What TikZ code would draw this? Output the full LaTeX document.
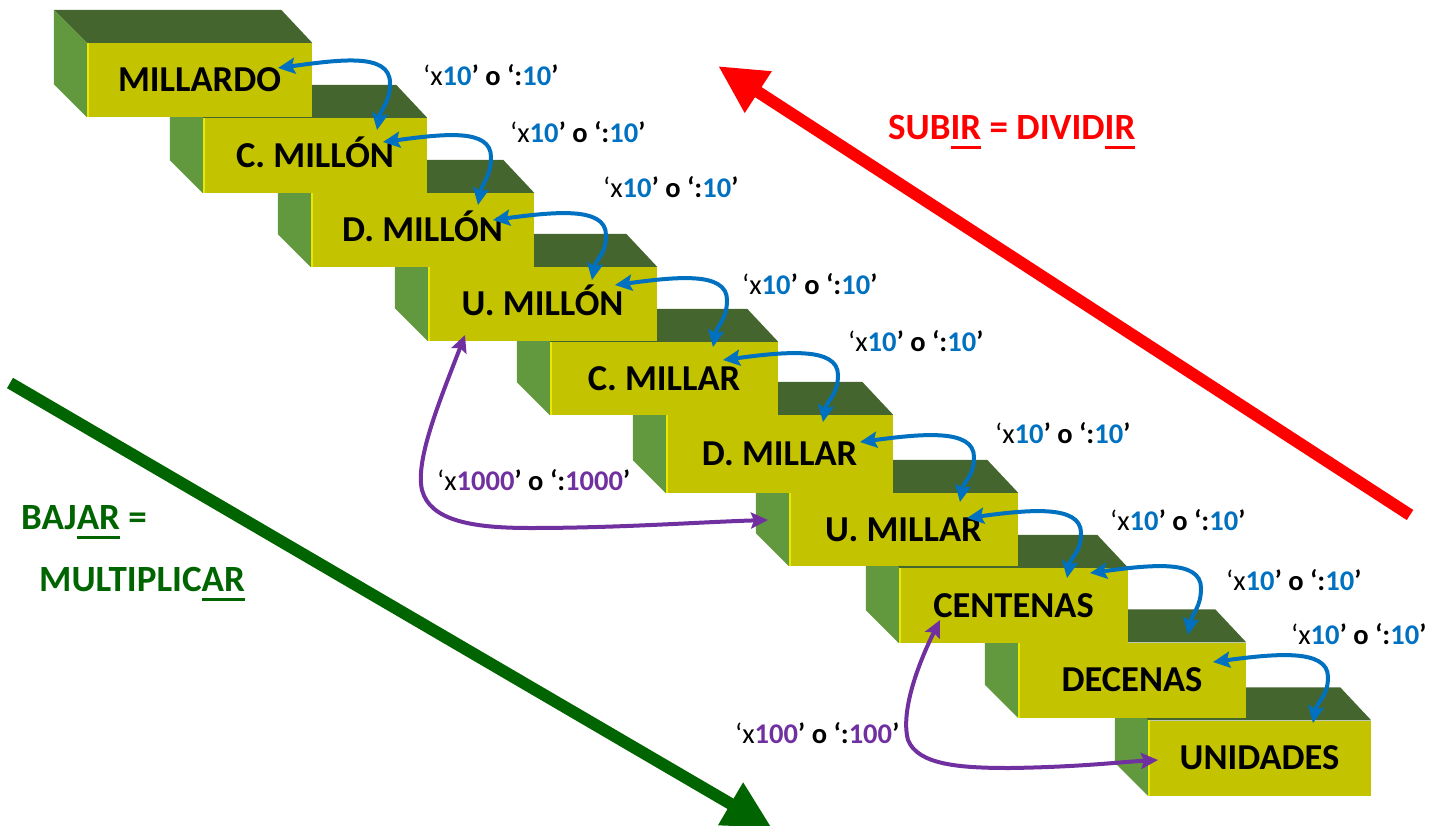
\documentclass[tikz,border=0pt]{standalone}
\usepackage{fontspec}
\setmainfont{Carlito}
\usetikzlibrary{arrows.meta}
\definecolor{frontc}{RGB}{195,195,0}
\definecolor{topc}{RGB}{68,101,46}
\definecolor{sidec}{RGB}{98,153,62}
\definecolor{edgec}{RGB}{232,232,0}
\definecolor{bluec}{RGB}{0,112,192}
\definecolor{purplec}{RGB}{112,48,160}
\definecolor{redc}{RGB}{255,0,0}
\definecolor{greenc}{RGB}{0,100,0}
\newcommand\myul[1]{\setbox0\hbox{#1}\rlap{\rule[-10pt]{\wd0}{3pt}}\box0\relax}
\newcommand\mlab[2]{{\mdseries ‘x}\textcolor{#1}{#2}’ o ‘:\textcolor{#1}{#2}’}
\newcommand\stepfaces[1]{%
  \fill[topc] (#1.north west) -- (#1.north east) -- ([shift={(-31,-33)}]#1.north east) -- ([shift={(-33,-33)}]#1.north west) -- cycle;
  \fill[sidec] (#1.north west) -- ([shift={(-33,-33)}]#1.north west) -- ([shift={(-33,-33)}]#1.south west) -- (#1.south west) -- cycle;
  \draw[edgec, line width=2.5pt] ([xshift=1.2pt]#1.north west) -- ([xshift=1.2pt]#1.south west);
}
\begin{document}
\begin{tikzpicture}[x=1pt,y=-1pt,
  stepbox/.style={rectangle, fill=frontc, inner sep=0pt, minimum height=75pt,
    text height=23pt, text depth=0pt, font=\fontsize{36.5}{40}\selectfont\bfseries, text=black},
  mullabel/.style={anchor=west, inner sep=0pt, font=\fontsize{28.5}{31}\selectfont\bfseries, text=black},
  bigtext/.style={anchor=base west, inner sep=0pt, font=\fontsize{37}{40}\selectfont\bfseries},
  barrow/.style={draw=bluec, line width=4pt, {Stealth[length=17pt,width=16pt,inset=3pt]}-{Stealth[length=17pt,width=16pt,inset=3pt]}},
  parrow/.style={draw=purplec, line width=4pt, {Stealth[length=17pt,width=16pt,inset=3pt]}-{Stealth[length=17pt,width=16pt,inset=3pt]}},
  bigarrow/.style={line width=12pt, -{Triangle[length=48pt,width=46pt]}}]
\useasboundingbox (0,0) rectangle (1446,825);
\clip (0,0) rectangle (1446,825);

% steps, drawn from the bottom up
\node[stepbox, minimum width=223pt] (s10) at (1259.5,758) {UNIDADES}; \stepfaces{s10}
\node[stepbox, minimum width=228pt] (s9) at (1132,680) {DECENAS}; \stepfaces{s9}
\node[stepbox, minimum width=229pt] (s8) at (1013.5,605.5) {CENTENAS}; \stepfaces{s8}
\node[stepbox, minimum width=229pt, minimum height=73pt] (s7) at (903.5,529.5) {U. MILLAR}; \stepfaces{s7}
\node[stepbox, minimum width=227pt, minimum height=78pt] (s6) at (779.5,454) {D. MILLAR}; \stepfaces{s6}
\node[stepbox, minimum width=228pt, minimum height=73pt] (s5) at (664,378.5) {C. MILLAR}; \stepfaces{s5}
\node[stepbox, minimum width=229pt, minimum height=74pt] (s4) at (542.5,304) {U. MILLÓN}; \stepfaces{s4}
\node[stepbox, minimum width=223pt, minimum height=74pt] (s3) at (422.5,230) {D. MILLÓN}; \stepfaces{s3}
\node[stepbox, minimum width=224pt] (s2) at (315,155.5) {C. MILLÓN}; \stepfaces{s2}
\node[stepbox, minimum width=225pt, minimum height=74pt] (s1) at (199.5,80) {MILLARDO}; \stepfaces{s1}

% tips of the blue arrows
\coordinate (l1) at (278,68);   \coordinate (d1) at (377,130);
\coordinate (l2) at (383,142);  \coordinate (d2) at (478,205);
\coordinate (l3) at (493,220);  \coordinate (d3) at (592,280);
\coordinate (l4) at (615,285);  \coordinate (d4) at (713,347);
\coordinate (l5) at (723,360);  \coordinate (d5) at (823,422);
\coordinate (l6) at (860,442);  \coordinate (d6) at (960,502);
\coordinate (l7) at (967,518);  \coordinate (d7) at (1067,578);
\coordinate (l8) at (1090,573); \coordinate (d8) at (1188,635);
\coordinate (l9) at (1213,662); \coordinate (d9) at (1313,723);

\draw[barrow] (l1) .. controls (338,60) and (390,52) .. (390,83) .. controls (390,103) and (381,108) .. (d1);
\draw[barrow] (l2) .. controls (443,134) and (491,128) .. (491,157) .. controls (491,177) and (482,183) .. (d2);
\draw[barrow] (l3) .. controls (553,212) and (606,206) .. (606,235) .. controls (606,255) and (596,258) .. (d3);
\draw[barrow] (l4) .. controls (675,277) and (727,271) .. (727,300) .. controls (727,320) and (717,325) .. (d4);
\draw[barrow] (l5) .. controls (783,352) and (838,346) .. (838,375) .. controls (838,395) and (827,400) .. (d5);
\draw[barrow] (l6) .. controls (920,434) and (974,428) .. (974,457) .. controls (974,477) and (964,480) .. (d6);
\draw[barrow] (l7) .. controls (1027,510) and (1081,504) .. (1081,533) .. controls (1081,553) and (1071,556) .. (d7);
\draw[barrow] (l8) .. controls (1150,565) and (1201,559) .. (1201,588) .. controls (1201,608) and (1192,613) .. (d8);
\draw[barrow] (l9) .. controls (1273,654) and (1328,648) .. (1328,677) .. controls (1328,697) and (1317,701) .. (d9);

% purple arrows
\coordinate (p1a) at (465,335); \coordinate (p1b) at (768,520);
\coordinate (p2a) at (940,620); \coordinate (p2b) at (1158,760);
\draw[parrow] (p1a) .. controls (440,400) and (415,460) .. (422,490) .. controls (430,520) and (470,528) .. (530,528) .. controls (620,528) and (700,522) .. (p1b);
\draw[parrow] (p2a) .. controls (920,660) and (900,710) .. (908,740) .. controls (918,765) and (960,768) .. (1010,768) .. controls (1080,767) and (1120,762) .. (p2b);

% multiplier labels
\node[mullabel] (m1) at (423,75) {\mlab{bluec}{10}};
\node[mullabel] (m2) at (510,132) {\mlab{bluec}{10}};
\node[mullabel] (m3) at (603,187) {\mlab{bluec}{10}};
\node[mullabel] (m4) at (742,284) {\mlab{bluec}{10}};
\node[mullabel] (m5) at (848,341) {\mlab{bluec}{10}};
\node[mullabel] (m6) at (995,433) {\mlab{bluec}{10}};
\node[mullabel] (m7) at (1110,520) {\mlab{bluec}{10}};
\node[mullabel] (m8) at (1226,580) {\mlab{bluec}{10}};
\node[mullabel] (m9) at (1291,634) {\mlab{bluec}{10}};
\node[mullabel] (m1000) at (437,480) {\mlab{purplec}{1000}};
\node[mullabel] (m100) at (735,733) {\mlab{purplec}{100}};

% big arrows
\coordinate (ra) at (1410,515); \coordinate (rb) at (718,66);
\coordinate (ga) at (10,383);   \coordinate (gb) at (772,828);
\draw[bigarrow, draw=redc, fill=redc] (ra) -- (rb);
\draw[bigarrow, draw=greenc, fill=greenc] (ga) -- (gb);

% titles
\node[bigtext, text=redc] (sub) at (888,139) {SUB\myul{IR} = DIVID\myul{IR}};
\node[bigtext, text=greenc] (baj) at (21,529) {BAJ\myul{AR} =};
\node[bigtext, text=greenc] (mul) at (39,591) {MULTIPLIC\myul{AR}};
\end{tikzpicture}
\end{document}
